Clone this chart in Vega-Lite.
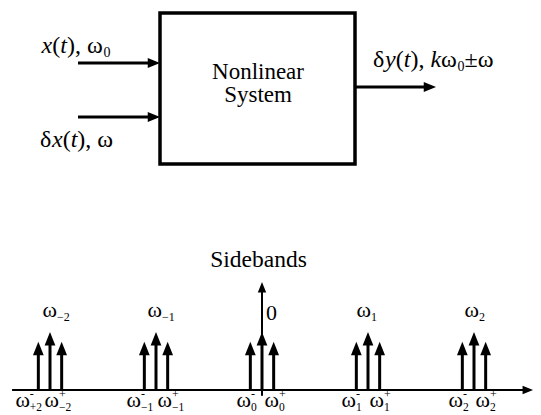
{
  "$schema": "https://vega.github.io/schema/vega-lite/v6.json",
  "background": "white",
  "padding": 0,
  "spacing": 0,
  "config": {"view": {"stroke": null}},
  "datasets": {
    "box": [{"x": 160, "x2": 355, "y": 13, "y2": 164}],
    "wires": [
      {"x": 78, "x2": 150, "y": 63},
      {"x": 78, "x2": 150, "y": 117},
      {"x": 355, "x2": 426, "y": 87}
    ],
    "wireHeads": [
      {"x": 160, "y": 63},
      {"x": 160, "y": 117},
      {"x": 436, "y": 87}
    ],
    "upright": [
      {"t": "(", "x": 52.2, "y": 53},
      {"t": "), ω", "x": 66.9, "y": 53},
      {"t": "δ", "x": 40, "y": 147},
      {"t": "(", "x": 62.7, "y": 147},
      {"t": "), ω", "x": 77.3, "y": 147},
      {"t": "δ", "x": 373, "y": 67},
      {"t": "(", "x": 395.7, "y": 67},
      {"t": "), ", "x": 410.4, "y": 67},
      {"t": "ω", "x": 441, "y": 67},
      {"t": "±ω", "x": 464.5, "y": 67}
    ],
    "italic": [
      {"t": "x", "x": 41.5, "y": 53},
      {"t": "t", "x": 60.2, "y": 53},
      {"t": "x", "x": 52, "y": 147},
      {"t": "t", "x": 70.7, "y": 147},
      {"t": "y", "x": 385, "y": 67},
      {"t": "t", "x": 403.7, "y": 67},
      {"t": "k", "x": 430.4, "y": 67}
    ],
    "subs": [
      {"t": "0", "x": 103.4, "y": 57},
      {"t": "0", "x": 457.5, "y": 71}
    ],
    "boxText": [
      {"t": "Nonlinear", "x": 258, "y": 79},
      {"t": "System", "x": 258, "y": 102}
    ],
    "freqAxis": [{"f": -2.358, "f2": 2.557, "a": 0}],
    "ampAxis": [{"f": 0, "a": 1.862, "a2": -0.1}],
    "axisHeadsUp": [{"f": 0, "a": 1.862}],
    "axisHeadsRight": [{"f": 2.557, "a": 0}],
    "spikes": [
      {"k": -2, "f": -2.11, "a": 0.83}, {"k": -2, "f": -2.0, "a": 1.0}, {"k": -2, "f": -1.89, "a": 0.83},
      {"k": -1, "f": -1.11, "a": 0.83}, {"k": -1, "f": -1.0, "a": 1.0}, {"k": -1, "f": -0.89, "a": 0.83},
      {"k": 0, "f": -0.11, "a": 0.83}, {"k": 0, "f": 0.0, "a": 1.0}, {"k": 0, "f": 0.11, "a": 0.83},
      {"k": 1, "f": 0.89, "a": 0.83}, {"k": 1, "f": 1.0, "a": 1.0}, {"k": 1, "f": 1.11, "a": 0.83},
      {"k": 2, "f": 1.89, "a": 0.83}, {"k": 2, "f": 2.0, "a": 1.0}, {"k": 2, "f": 2.11, "a": 0.83}
    ],
    "captions": [
      {"t": "Sidebands", "f": -0.033, "a": 2.121}
    ],
    "zeroMark": [
      {"t": "0", "f": 0.09, "a": 1.207}
    ],
    "lineLabels": [
      {"base": "ω", "sub": "−2", "f": -1.934, "a": 1.259},
      {"base": "ω", "sub": "−1", "f": -0.943, "a": 1.259},
      {"base": "ω", "sub": "1", "f": 1.028, "a": 1.259},
      {"base": "ω", "sub": "2", "f": 2.047, "a": 1.259}
    ],
    "bandLabels": [
      {"base": "ω", "sup": "-", "sub": "+2", "f": -2.19, "a": -0.293},
      {"base": "ω", "sup": "+", "sub": "−2", "f": -1.915, "a": -0.293},
      {"base": "ω", "sup": "-", "sub": "−1", "f": -1.142, "a": -0.293},
      {"base": "ω", "sup": "+", "sub": "−1", "f": -0.849, "a": -0.293},
      {"base": "ω", "sup": "-", "sub": "0", "f": -0.104, "a": -0.293},
      {"base": "ω", "sup": "+", "sub": "0", "f": 0.16, "a": -0.293},
      {"base": "ω", "sup": "-", "sub": "1", "f": 0.887, "a": -0.293},
      {"base": "ω", "sup": "+", "sub": "1", "f": 1.151, "a": -0.293},
      {"base": "ω", "sup": "-", "sub": "2", "f": 1.896, "a": -0.293},
      {"base": "ω", "sup": "+", "sub": "2", "f": 2.151, "a": -0.293}
    ]
  },
  "vconcat": [
    {
      "width": 541,
      "height": 230,
      "encoding": {
        "x": {"field": "x", "type": "quantitative", "scale": {"domain": [0, 541], "nice": false, "zero": false}, "axis": null},
        "y": {"field": "y", "type": "quantitative", "scale": {"domain": [230, 0], "nice": false, "zero": false}, "axis": null}
      },
      "layer": [
        {
          "data": {"name": "box"},
          "mark": {"type": "rect", "fill": "white", "stroke": "black", "strokeWidth": 3.5},
          "encoding": {"x2": {"field": "x2"}, "y2": {"field": "y2"}}
        },
        {
          "data": {"name": "wires"},
          "mark": {"type": "rule", "color": "black", "strokeWidth": 3, "strokeCap": "butt"},
          "encoding": {"x2": {"field": "x2"}}
        },
        {
          "data": {"name": "wireHeads"},
          "mark": {"type": "point", "shape": "M0,0L-2,-0.8L-2,0.8Z", "size": 150, "filled": true, "color": "black", "opacity": 1, "strokeWidth": 0}
        },
        {
          "data": {"name": "upright"},
          "mark": {"type": "text", "font": "Liberation Serif", "color": "black", "align": "left", "baseline": "alphabetic", "fontSize": 24},
          "encoding": {"text": {"field": "t"}}
        },
        {
          "data": {"name": "italic"},
          "mark": {"type": "text", "font": "Liberation Serif", "color": "black", "align": "left", "baseline": "alphabetic", "fontSize": 24, "fontStyle": "italic"},
          "encoding": {"text": {"field": "t"}}
        },
        {
          "data": {"name": "subs"},
          "mark": {"type": "text", "font": "Liberation Serif", "color": "black", "align": "left", "baseline": "alphabetic", "fontSize": 14},
          "encoding": {"text": {"field": "t"}}
        },
        {
          "data": {"name": "boxText"},
          "mark": {"type": "text", "font": "Liberation Serif", "color": "black", "align": "center", "baseline": "alphabetic", "fontSize": 23},
          "encoding": {"text": {"field": "t"}}
        }
      ]
    },
    {
      "width": 541,
      "height": 185,
      "encoding": {
        "x": {"field": "f", "type": "quantitative", "scale": {"domain": [-2.4717, 2.6321], "nice": false, "zero": false}, "axis": null},
        "y": {"field": "a", "type": "quantitative", "scale": {"domain": [-0.431, 2.7586], "nice": false, "zero": false}, "axis": null}
      },
      "layer": [
        {
          "data": {"name": "freqAxis"},
          "mark": {"type": "rule", "color": "black", "strokeWidth": 2, "strokeCap": "butt", "x2Offset": -8},
          "encoding": {"x2": {"field": "f2"}}
        },
        {
          "data": {"name": "ampAxis"},
          "mark": {"type": "rule", "color": "black", "strokeWidth": 2, "strokeCap": "butt", "yOffset": 8},
          "encoding": {"y2": {"field": "a2"}}
        },
        {
          "data": {"name": "axisHeadsUp"},
          "mark": {"type": "point", "shape": "M0,0L-0.8,2L0.8,2Z", "size": 110, "filled": true, "color": "black", "opacity": 1, "strokeWidth": 0}
        },
        {
          "data": {"name": "axisHeadsRight"},
          "mark": {"type": "point", "shape": "M0,0L-2,-0.8L-2,0.8Z", "size": 110, "filled": true, "color": "black", "opacity": 1, "strokeWidth": 0}
        },
        {
          "data": {"name": "spikes"},
          "mark": {"type": "rule", "color": "black", "strokeWidth": 3, "strokeCap": "butt", "yOffset": 10},
          "encoding": {"y2": {"datum": 0}}
        },
        {
          "data": {"name": "spikes"},
          "mark": {"type": "point", "shape": "M0,0L-0.8,2L0.8,2Z", "size": 180, "filled": true, "color": "black", "opacity": 1, "strokeWidth": 0}
        },
        {
          "data": {"name": "captions"},
          "mark": {"type": "text", "font": "Liberation Serif", "color": "black", "align": "center", "baseline": "alphabetic", "fontSize": 23.5},
          "encoding": {"text": {"field": "t"}}
        },
        {
          "data": {"name": "zeroMark"},
          "mark": {"type": "text", "font": "Liberation Serif", "color": "black", "align": "center", "baseline": "alphabetic", "fontSize": 22},
          "encoding": {"text": {"field": "t"}}
        },
        {
          "data": {"name": "lineLabels"},
          "mark": {"type": "text", "font": "Liberation Serif", "color": "black", "align": "right", "baseline": "alphabetic", "fontSize": 22},
          "encoding": {"text": {"field": "base"}}
        },
        {
          "data": {"name": "lineLabels"},
          "mark": {"type": "text", "font": "Liberation Serif", "color": "black", "align": "left", "baseline": "alphabetic", "fontSize": 12, "dy": 4},
          "encoding": {"text": {"field": "sub"}}
        },
        {
          "data": {"name": "bandLabels"},
          "mark": {"type": "text", "font": "Liberation Serif", "color": "black", "align": "right", "baseline": "alphabetic", "fontSize": 22},
          "encoding": {"text": {"field": "base"}}
        },
        {
          "data": {"name": "bandLabels"},
          "mark": {"type": "text", "font": "Liberation Serif", "color": "black", "align": "left", "baseline": "alphabetic", "fontSize": 12, "dy": -9},
          "encoding": {"text": {"field": "sup"}}
        },
        {
          "data": {"name": "bandLabels"},
          "mark": {"type": "text", "font": "Liberation Serif", "color": "black", "align": "left", "baseline": "alphabetic", "fontSize": 11.5, "dy": 4},
          "encoding": {"text": {"field": "sub"}}
        }
      ]
    }
  ]
}
